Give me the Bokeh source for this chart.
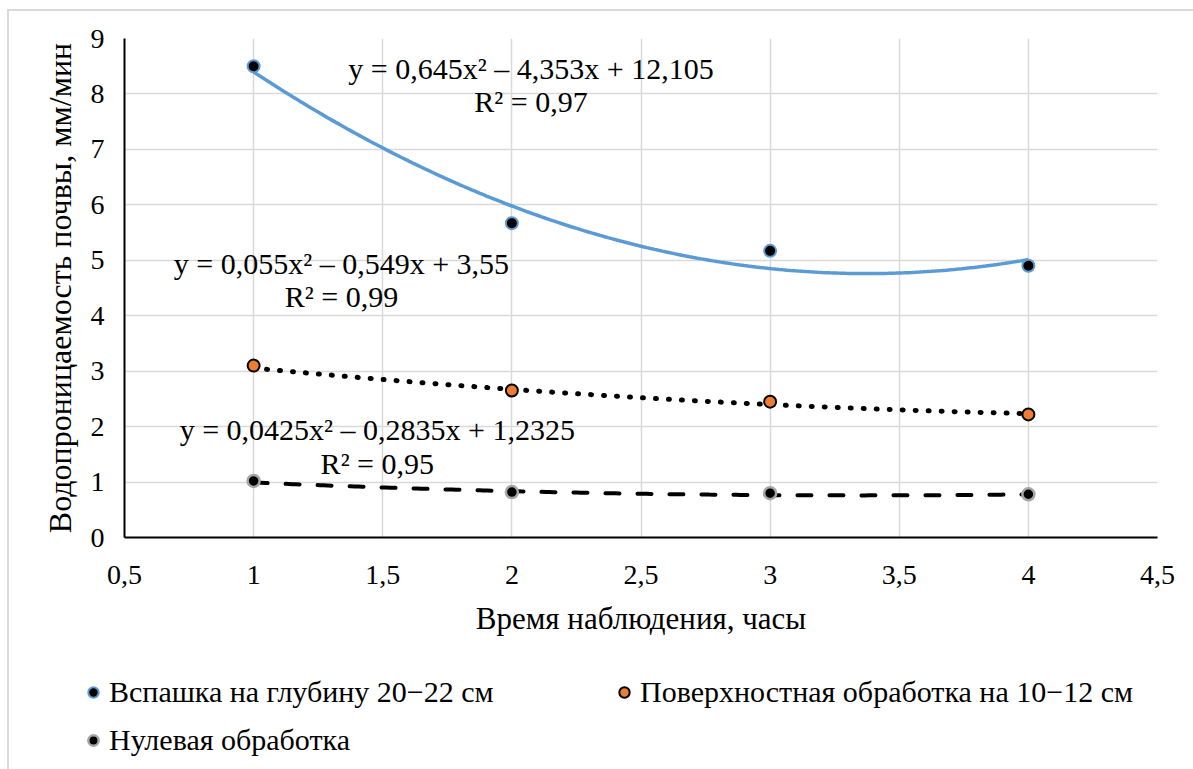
import numpy as np
from bokeh.plotting import figure
from bokeh.layouts import column
from bokeh.models import FixedTicker, Legend, LegendItem, Label
from bokeh.embed import file_html
from bokeh.resources import INLINE

# ---- data ----
hours = [1, 2, 3, 4]
plowing = [8.5, 5.67, 5.17, 4.9]
surface = [3.1, 2.65, 2.45, 2.22]
zero_till = [1.02, 0.82, 0.8, 0.78]

# trendline coefficients shown on the chart (a, b, c)
coef_plowing = [0.645, -4.353, 12.105]
coef_surface = [0.055, -0.549, 3.55]
coef_zero = [0.0425, -0.2835, 1.2325]

eq_plowing = ["y = 0,645x² – 4,353x + 12,105", "R² = 0,97"]
eq_surface = ["y = 0,055x² – 0,549x + 3,55", "R² = 0,99"]
eq_zero = ["y = 0,0425x² – 0,2835x + 1,2325", "R² = 0,95"]

series_names = ["Вспашка на глубину 20−22 см",
                "Поверхностная обработка на 10−12 см",
                "Нулевая обработка"]

x_ticks = [0.5, 1, 1.5, 2, 2.5, 3, 3.5, 4, 4.5]
x_tick_labels = ["0,5", "1", "1,5", "2", "2,5", "3", "3,5", "4", "4,5"]
y_ticks = [0, 1, 2, 3, 4, 5, 6, 7, 8, 9]

x_title = "Время наблюдения, часы"
y_title = "Водопроницаемость почвы, мм/мин"

FONT = "Liberation Serif"
BLUE = "#5B9BD5"
ORANGE = "#ED7D31"
GRAY = "#A5A5A5"
GRID = "#D9D9D9"

W = 1184
p = figure(width=W, height=640, x_range=(0.5, 4.5), y_range=(0, 9),
           output_backend="svg", toolbar_location=None,
           min_border_left=115, min_border_right=W - 115 - 1033,
           min_border_top=27, min_border_bottom=640 - 27 - 499)
p.outline_line_color = None
p.background_fill_color = "white"
p.border_fill_color = "white"

# axes
for ax in (p.xaxis[0], p.yaxis[0]):
    ax.axis_line_color = "black"
    ax.axis_line_width = 2
    ax.major_tick_out = 0
    ax.major_tick_in = 0
    ax.minor_tick_out = 0
    ax.minor_tick_in = 0
    ax.major_label_text_font = FONT
    ax.major_label_text_font_size = "28px"
    ax.major_label_text_color = "black"
    ax.axis_label_text_font = FONT
    ax.axis_label_text_font_size = "31px"
    ax.axis_label_text_font_style = "normal"
    ax.axis_label_text_color = "black"
p.yaxis.axis_label_text_font_size = "32px"

p.xaxis.ticker = FixedTicker(ticks=x_ticks)
p.xaxis.major_label_overrides = {t: l for t, l in zip(x_ticks, x_tick_labels)}
p.yaxis.ticker = FixedTicker(ticks=y_ticks)
p.xaxis.axis_label = x_title
p.yaxis.axis_label = y_title
p.xaxis.major_label_standoff = 28
p.xaxis.axis_label_standoff = 14
p.yaxis.major_label_standoff = 20
p.yaxis.axis_label_standoff = 10

p.xgrid.ticker = FixedTicker(ticks=x_ticks)
p.ygrid.ticker = FixedTicker(ticks=y_ticks)
for g in (p.xgrid[0], p.ygrid[0]):
    g.grid_line_color = GRID
    g.grid_line_width = 1.5

# trendlines
xs = np.linspace(min(hours), max(hours), 200)
p.line(xs, np.polyval(coef_plowing, xs), line_color=BLUE, line_width=3.5)
p.line(xs, np.polyval(coef_surface, xs), line_color="black", line_width=5,
       line_dash="1 12", line_cap="round")
p.line(xs, np.polyval(coef_zero, xs), line_color="black", line_width=4,
       line_dash="14 18", line_cap="round")

# markers
marker_styles = [dict(fill_color="black", line_color=BLUE, line_width=2),
                 dict(fill_color=ORANGE, line_color="black", line_width=2),
                 dict(fill_color="black", line_color=GRAY, line_width=2.5)]
series_vals = [plowing, surface, zero_till]
for vals, st in zip(series_vals, marker_styles):
    p.scatter(hours, vals, size=12, **st)

# equations
def add_eq(lines, x, y):
    p.add_layout(Label(x=x, y=y, text=lines[0], text_align="center",
                       text_baseline="middle", text_font=FONT,
                       text_font_size="30px", text_color="black"))
    p.add_layout(Label(x=x, y=y - 0.6, text=lines[1], text_align="center",
                       text_baseline="middle", text_font=FONT,
                       text_font_size="30px", text_color="black"))

add_eq(eq_plowing, 2.074, 8.46)
add_eq(eq_surface, 1.34, 4.95)
add_eq(eq_zero, 1.479, 1.94)

# ---- legend panel (proxy glyphs lie outside its visible range) ----
LH = 118
lg = figure(width=W, height=LH, x_range=(100, 101), y_range=(100, 101),
            output_backend="svg", toolbar_location=None,
            x_axis_location=None, y_axis_location=None,
            min_border_left=0, min_border_right=0,
            min_border_top=0, min_border_bottom=0)
if "frame_align" in lg.properties():
    lg.frame_align = False
    p.frame_align = False
lg.grid.visible = False
lg.outline_line_color = None
items = []
for name, vals, st in zip(series_names, series_vals, marker_styles):
    r = lg.scatter(x=hours[:1], y=vals[:1], size=12, **st)
    items.append(LegendItem(label=name, renderers=[r]))
# column-major fill: order so rows read [0, 1] / [2]
items = [items[0], items[2], items[1]]
legend = Legend(items=items, ncols=2, location=(71, 12),
                label_text_font=FONT, label_text_font_size="30px",
                label_text_color="black",
                glyph_width=26, glyph_height=30, label_standoff=3,
                label_width=488, spacing=14, padding=0, margin=0,
                border_line_color=None, background_fill_alpha=0)
lg.add_layout(legend, "center")

layout = column(p, lg, spacing=0, margin=(9, 0, 0, 7),
                styles={"border-left": "2px solid #D9D9D9",
                        "border-top": "2px solid #D9D9D9"})

open("out.html", "w").write(file_html(layout, INLINE))
